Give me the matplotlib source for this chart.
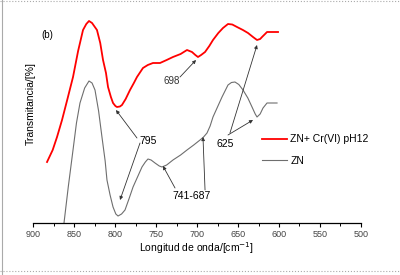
import numpy as np
import matplotlib
matplotlib.use("Agg")
import matplotlib.pyplot as plt
from matplotlib.lines import Line2D
from matplotlib.ticker import MultipleLocator

plt.rcParams['font.family'] = ['Liberation Sans', 'DejaVu Sans']

# ZN + Cr(VI) pH12 (red)
wn_red = [882.9, 876, 870.7, 864.6, 858, 851.2, 845, 839.0, 835, 831.7,
          828, 822.0, 818, 814.6, 811, 808.5, 805, 802.4, 799.5, 797.6,
          794, 791.5, 787, 781.7, 777, 773.2, 765.9, 760, 753.7, 745.1,
          737, 729.3, 720, 712.2, 706.1, 702, 698.8, 695, 690.2, 685,
          680.5, 674, 668.3, 662.2, 657, 651.2, 644, 637.8, 631.7, 626.8,
          623, 620.7, 617, 614.6, 601.2]
t_red = [61, 73, 86, 103, 124, 146, 172, 193, 199, 202,
         200, 193, 180, 163, 150, 136, 126, 120, 117, 116,
         116.5, 118, 124, 133, 140, 146, 155, 158, 160, 160,
         163, 166, 169, 173, 171, 168, 166, 168, 171, 177,
         183, 190, 195, 199, 198.5, 196, 193, 190, 186, 183,
         184, 186, 189, 191, 191]

# ZN (gray)
wn_zn = [862.2, 857, 851.2, 847, 842.7, 837, 831.7, 828, 824.4, 820,
         815.9, 812, 809.8, 806, 802.4, 799, 796.3, 792, 787.8, 783,
         778.0, 772, 767.1, 763, 759.8, 756, 751.2, 746, 742.7, 737,
         729.3, 720, 712.2, 704, 696.3, 692, 687.8, 684, 680.5, 675,
         669.5, 662.2, 658, 653.7, 649, 643.9, 638, 632.9, 629, 626.8,
         623, 619.5, 614.6, 602.4]
t_zn = [0, 36, 73, 100, 120, 135, 142, 140, 133, 112,
        86, 62, 43, 28, 16, 9, 7, 9, 13, 24,
        36, 47, 56, 61, 64, 63, 60, 57, 56, 58,
        63, 68, 73, 78, 83, 86, 90, 97, 106, 116,
        126, 138, 140.5, 141, 138.5, 133, 125, 116, 109, 106,
        109, 115, 120, 120]

fig = plt.figure(figsize=(4, 2.75), dpi=100)
ax = fig.add_axes([33 / 400, 52 / 275, 328 / 400, 213 / 275])

ax.plot(wn_red, t_red, color='#ff0000', lw=1.3, label='ZN+ Cr(VI) pH12')
ax.plot(wn_zn, t_zn, color='#6e6e6e', lw=0.8, label='ZN')

ax.set_xlim(900, 500)
ax.set_ylim(0, 213)
ax.set_yticks([])
for s in ['left', 'top', 'right']:
    ax.spines[s].set_visible(False)
ax.spines['bottom'].set_linewidth(0.9)
ax.xaxis.set_major_locator(MultipleLocator(50))
ax.xaxis.set_minor_locator(MultipleLocator(25))
ax.tick_params(axis='x', which='major', direction='out', length=3, width=0.8,
               labelsize=6.5, pad=2, labelcolor='#444444')
ax.tick_params(axis='x', which='minor', direction='out', length=2.5, width=0.7)

ax.set_xlabel('Longitud de onda/[cm$^{-1}$]', fontsize=7.5, labelpad=1)
ax.set_ylabel('Transmitancia/[%]', fontsize=7.5, labelpad=2)
ax.yaxis.set_label_coords(0.01, 0.56)

ax.text(882.9, 188, '(b)', fontsize=7, ha='center', va='center')

arr = dict(arrowstyle='-|>', color='#333333', lw=0.6, mutation_scale=5, shrinkA=0, shrinkB=0)
fs = 7.5
ax.text(759.8, 82, '795', fontsize=fs, ha='center', va='center')
ax.annotate('', xy=(798.8, 113), xytext=(773.2, 85), arrowprops=arr)
ax.annotate('', xy=(793.9, 23), xytext=(769.5, 80), arrowprops=arr)

ax.text(706.1, 27, '741-687', fontsize=fs, ha='center', va='center')
ax.annotate('', xy=(741.5, 57), xytext=(726.8, 35), arrowprops=arr)
ax.annotate('', xy=(692.7, 86), xytext=(690.2, 33), arrowprops=arr)

ax.text(665.9, 79, '625', fontsize=fs, ha='center', va='center')
ax.annotate('', xy=(631.7, 103), xytext=(662.2, 88), arrowprops=arr)
ax.annotate('', xy=(626.8, 178), xytext=(659.8, 90), arrowprops=arr)

ax.text(730.5, 142, '698', fontsize=7, ha='center', va='center', color='#333333')
ax.annotate('', xy=(701.2, 163), xytext=(720.7, 146), arrowprops=arr)

fig.legend(loc='center left', bbox_to_anchor=(253 / 400, 1 - 150 / 275),
           frameon=False, fontsize=7.5, handlelength=2.4, labelspacing=1.1,
           handletextpad=0.3)

# image border
fig.add_artist(Line2D([0.004, 0.004], [0, 1], color='#aaaaaa', lw=0.8))
fig.add_artist(Line2D([0, 1], [0.995, 0.995], color='#aaaaaa', lw=0.8, ls=':'))
fig.add_artist(Line2D([0, 1], [0.013, 0.013], color='#aaaaaa', lw=0.8, ls=':'))

fig.savefig('out.png', dpi=100)
